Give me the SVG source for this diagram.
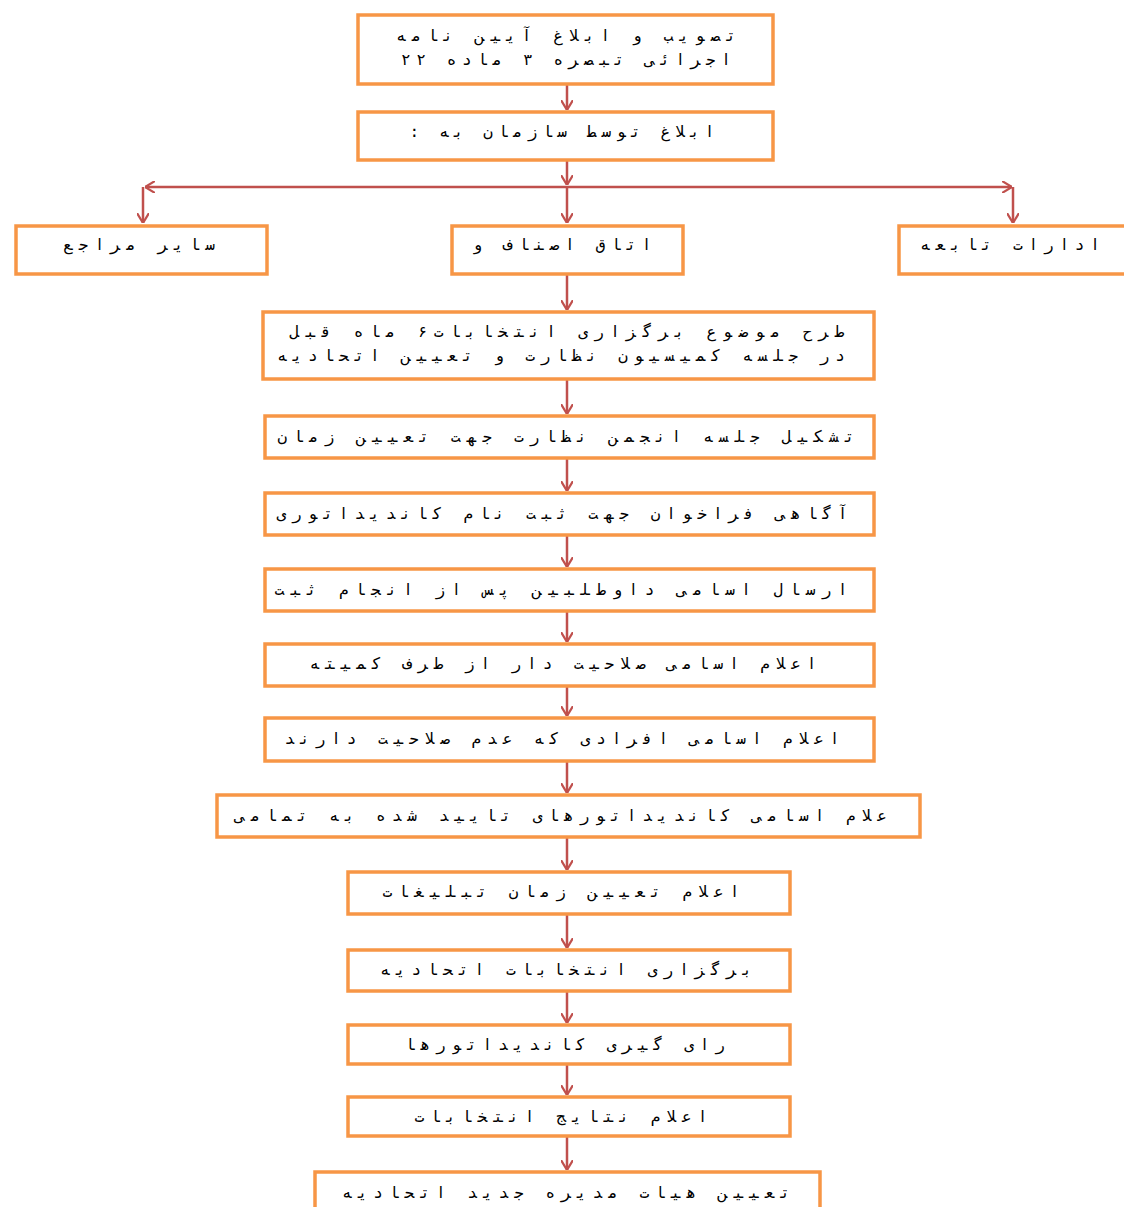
<svg xmlns="http://www.w3.org/2000/svg" width="1124" height="1207" viewBox="0 0 1124 1207">
<style>
.b{fill:#fff;stroke:#f79646;stroke-width:3.5}
.t{font-family:"DejaVu Sans Mono","Noto Sans","DejaVu Sans",monospace;font-size:16px;fill:#000;text-anchor:middle;direction:rtl}
.c{stroke:#c0504d;stroke-width:2.5;fill:none}
</style>
<defs>
<marker id="ah" viewBox="0 0 10 12" refX="10" refY="6" markerWidth="10" markerHeight="12" markerUnits="userSpaceOnUse" orient="auto">
<path d="M0,0 L10,6 L0,12" fill="none" stroke="#c0504d" stroke-width="2.2"/>
</marker>
</defs>
<rect width="1124" height="1207" fill="#fff"/>
<g id="connectors">
<path class="c" d="M567,84 V110" marker-end="url(#ah)"/>
<path class="c" d="M567,160 V185" marker-end="url(#ah)"/>
<path class="c" d="M567,187 H145" marker-end="url(#ah)"/>
<path class="c" d="M567,187 H1012" marker-end="url(#ah)"/>
<path class="c" d="M143,187 V223" marker-end="url(#ah)"/>
<path class="c" d="M567,187 V223" marker-end="url(#ah)"/>
<path class="c" d="M1013,187 V223" marker-end="url(#ah)"/>
<path class="c" d="M567,274 V310" marker-end="url(#ah)"/>
<path class="c" d="M567,379 V414" marker-end="url(#ah)"/>
<path class="c" d="M567,458 V491" marker-end="url(#ah)"/>
<path class="c" d="M567,535 V567" marker-end="url(#ah)"/>
<path class="c" d="M567,611 V642" marker-end="url(#ah)"/>
<path class="c" d="M567,686 V716" marker-end="url(#ah)"/>
<path class="c" d="M567,761 V793" marker-end="url(#ah)"/>
<path class="c" d="M567,837 V870" marker-end="url(#ah)"/>
<path class="c" d="M567,914 V948" marker-end="url(#ah)"/>
<path class="c" d="M567,991 V1023" marker-end="url(#ah)"/>
<path class="c" d="M567,1064 V1095" marker-end="url(#ah)"/>
<path class="c" d="M567,1136 V1170" marker-end="url(#ah)"/>
</g>
<g id="n1"><rect class="b" x="358" y="15" width="415" height="69"/>
<text class="t" x="566" y="41" textLength="340" lengthAdjust="spacing">تصویب و ابلاغ آیین نامه</text>
<text class="t" x="566" y="65" textLength="330" lengthAdjust="spacing">اجرائی تبصره ۳ ماده ۲۲</text></g>
<g id="n2"><rect class="b" x="358" y="112" width="415" height="48"/>
<text class="t" x="562" y="137" textLength="305" lengthAdjust="spacing">ابلاغ توسط سازمان به :</text></g>
<g id="n3"><rect class="b" x="16" y="226" width="251" height="48"/>
<text class="t" x="139" y="250" textLength="152" lengthAdjust="spacing">سایر مراجع</text></g>
<g id="n4"><rect class="b" x="452" y="226" width="231" height="48"/>
<text class="t" x="562" y="250" textLength="179" lengthAdjust="spacing">اتاق اصناف و</text></g>
<g id="n5"><rect class="b" x="899" y="226" width="230" height="48"/>
<text class="t" x="1010" y="250" textLength="180" lengthAdjust="spacing">ادارات تابعه</text></g>
<g id="n6"><rect class="b" x="263" y="312" width="611" height="67"/>
<text class="t" x="567" y="337" textLength="555" lengthAdjust="spacing">طرح موضوع برگزاری انتخابات۶ ماه قبل</text>
<text class="t" x="561" y="361" textLength="568" lengthAdjust="spacing">در جلسه کمیسیون نظارت و تعیین اتحادیه</text></g>
<g id="n7"><rect class="b" x="265" y="416" width="609" height="42"/>
<text class="t" x="566" y="442" textLength="577" lengthAdjust="spacing">تشکیل جلسه انجمن نظارت جهت تعیین زمان</text></g>
<g id="n8"><rect class="b" x="265" y="493" width="609" height="42"/>
<text class="t" x="562" y="519" textLength="571" lengthAdjust="spacing">آگاهی فراخوان جهت ثبت نام کاندیداتوری</text></g>
<g id="n9"><rect class="b" x="265" y="569" width="609" height="42"/>
<text class="t" x="561" y="595" textLength="573" lengthAdjust="spacing">ارسال اسامی  داوطلبین پس از انجام ثبت</text></g>
<g id="n10"><rect class="b" x="265" y="644" width="609" height="42"/>
<text class="t" x="563" y="669" textLength="507" lengthAdjust="spacing">اعلام اسامی صلاحیت دار از طرف کمیته</text></g>
<g id="n11"><rect class="b" x="265" y="718" width="609" height="43"/>
<text class="t" x="562" y="744" textLength="555" lengthAdjust="spacing">اعلام اسامی افرادی که عدم صلاحیت دارند</text></g>
<g id="n12"><rect class="b" x="217" y="795" width="703" height="42"/>
<text class="t" x="561" y="821" textLength="652" lengthAdjust="spacing">علام اسامی کاندیداتورهای تایید شده به تمامی</text></g>
<g id="n13"><rect class="b" x="348" y="872" width="442" height="42"/>
<text class="t" x="561" y="897" textLength="357" lengthAdjust="spacing">اعلام تعیین زمان تبلیغات</text></g>
<g id="n14"><rect class="b" x="348" y="950" width="442" height="41"/>
<text class="t" x="566" y="975" textLength="372" lengthAdjust="spacing">برگزاری انتخابات اتحادیه</text></g>
<g id="n15"><rect class="b" x="348" y="1025" width="442" height="39"/>
<text class="t" x="565" y="1050" textLength="320" lengthAdjust="spacing">رای گیری کاندیداتورها</text></g>
<g id="n16"><rect class="b" x="348" y="1097" width="442" height="39"/>
<text class="t" x="561" y="1122" textLength="293" lengthAdjust="spacing">اعلام نتایج انتخابات</text></g>
<g id="n17"><rect class="b" x="315" y="1172" width="505" height="45"/>
<text class="t" x="566" y="1198" textLength="448" lengthAdjust="spacing">تعیین هیات مدیره جدید اتحادیه</text></g>
</svg>
